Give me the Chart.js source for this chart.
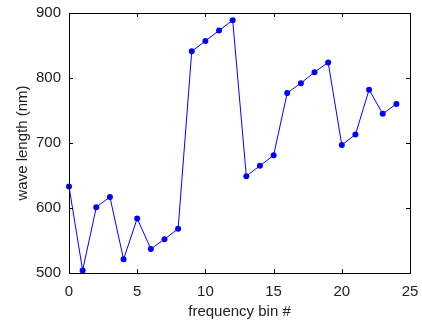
<!DOCTYPE html>
<html><head><meta charset="utf-8">
<script src="https://cdn.jsdelivr.net/npm/chart.js@4/dist/chart.umd.min.js"></script>
<style>html,body{margin:0;padding:0;background:#fff}#wrap{width:422px;height:324px}</style>
</head><body><div id="wrap"><canvas id="c" width="422" height="324"></canvas></div>
<script>
const bins = [0,1,2,3,4,5,6,7,8,9,10,11,12,13,14,15,16,17,18,19,20,21,22,23,24];
const waveLength = [633,504,601,617,521,584,537,552,568,841,857,873,889,649,665,681,777,792,809,824,697,713,782,745,760];
const xTicks = [0,5,10,15,20,25];
const yTicks = [500,600,700,800,900];
const xTitle = 'frequency bin #';
const yTitle = 'wave length (nm)';

const font = "'Liberation Sans', Arial, Helvetica, sans-serif";

const framePlugin = {
  id: 'frame',
  afterDraw(chart) {
    const {ctx, chartArea: a, scales} = chart;
    ctx.save();
    ctx.strokeStyle = '#000';
    ctx.lineWidth = 1;
    ctx.strokeRect(Math.round(a.left)+0.5, Math.round(a.top)+0.5, Math.round(a.right-a.left), Math.round(a.bottom-a.top));
    const L = 4;
    ctx.beginPath();
    xTicks.forEach(v => {
      const p = Math.round(scales.x.getPixelForValue(v)) + 0.5;
      ctx.moveTo(p, a.bottom); ctx.lineTo(p, a.bottom - L);
      ctx.moveTo(p, a.top); ctx.lineTo(p, a.top + L);
    });
    yTicks.forEach(v => {
      const p = Math.round(scales.y.getPixelForValue(v)) + 0.5;
      ctx.moveTo(a.left, p); ctx.lineTo(a.left + L, p);
      ctx.moveTo(a.right, p); ctx.lineTo(a.right - L, p);
    });
    ctx.stroke();
    ctx.restore();
  }
};

new Chart(document.getElementById('c'), {
  type: 'line',
  data: {
    datasets: [{
      data: bins.map((b, i) => ({x: b, y: waveLength[i]})),
      borderColor: '#0000ff',
      backgroundColor: '#0000ff',
      borderWidth: 1,
      pointRadius: 3,
      pointBorderWidth: 0,
      pointBackgroundColor: '#0000ff',
      tension: 0,
      clip: false
    }]
  },
  options: {
    responsive: false,
    animation: false,
    events: [],
    layout: {padding: {left: 0, right: 12, top: 13, bottom: 0}},
    plugins: {legend: {display: false}, tooltip: {enabled: false}},
    scales: {
      x: {
        type: 'linear', min: 0, max: 25,
        afterBuildTicks: s => { s.ticks = xTicks.map(v => ({value: v})); },
        afterFit: s => { s.height = 51; s.paddingLeft = 0; s.paddingRight = 0; },
        grid: {display: false, drawTicks: false},
        border: {display: false},
        ticks: {color: '#222', font: {family: font, size: 15}, padding: 10, maxRotation: 0},
        title: {display: true, text: xTitle, color: '#222', font: {family: font, size: 15}, padding: {top: 2, bottom: 3}}
      },
      y: {
        type: 'linear', min: 500, max: 900,
        afterBuildTicks: s => { s.ticks = yTicks.map(v => ({value: v})); },
        afterFit: s => { s.width = 69; s.paddingTop = 0; s.paddingBottom = 0; },
        grid: {display: false, drawTicks: false},
        border: {display: false},
        ticks: {color: '#222', font: {family: font, size: 15}, padding: 8},
        title: {display: true, text: yTitle, color: '#222', font: {family: font, size: 15}, padding: {top: 14, bottom: 0}}
      }
    }
  },
  plugins: [framePlugin]
});
</script></body></html>
